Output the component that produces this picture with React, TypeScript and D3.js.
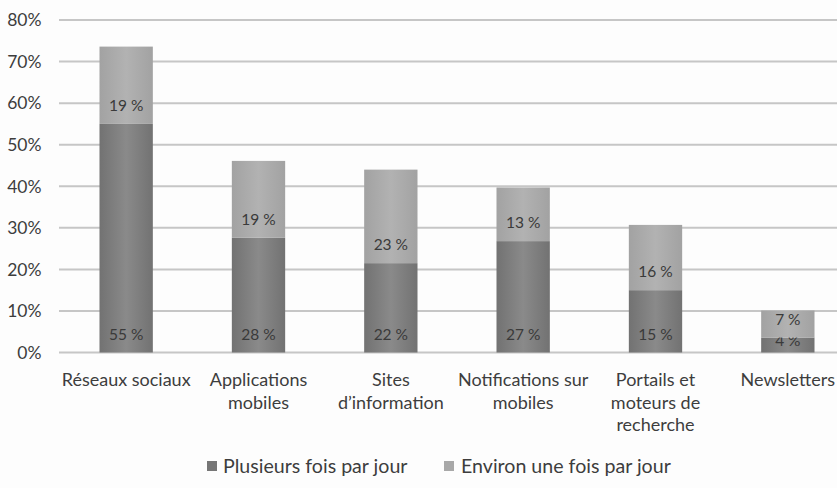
import React from "react";
import * as d3 from "d3";

const categories: string[][] = [
  ["Réseaux sociaux"],
  ["Applications", "mobiles"],
  ["Sites", "d’information"],
  ["Notifications sur", "mobiles"],
  ["Portails et", "moteurs de", "recherche"],
  ["Newsletters"],
];
const plusieurs: number[] = [55.0, 27.6, 21.5, 26.8, 15.0, 3.6];
const environ: number[] = [18.6, 18.5, 22.5, 12.9, 15.7, 6.5];
const yTicks: number[] = [0, 10, 20, 30, 40, 50, 60, 70, 80];
const seriesNames: string[] = ["Plusieurs fois par jour", "Environ une fois par jour"];

const W = 837;
const H = 488;
const FONT = "Lato, 'Open Sans', sans-serif";
const TEXT = "#3d3d3d";

export default function App() {
  const x = d3
    .scaleBand<number>()
    .domain(d3.range(categories.length))
    .range([60, 854])
    .paddingInner(0.597)
    .paddingOuter(0.2985);
  const y = d3.scaleLinear().domain([0, 80]).range([352.5, 20]);

  const stacked = categories.map((_, i) => {
    const a = plusieurs[i];
    const b = environ[i];
    return [
      { y0: 0, y1: a, v: a, fill: "url(#gDark)" },
      { y0: a, y1: a + b, v: b, fill: "url(#gLight)" },
    ];
  });

  return (
    <svg
      width={W}
      height={H}
      style={{ position: "absolute", left: 0, top: 0, background: "#fdfdfd" }}
      fontFamily={FONT}
    >
      <defs>
        <linearGradient id="gDark" x1="0" x2="1" y1="0" y2="0">
          <stop offset="0" stopColor="#727272" />
          <stop offset="0.5" stopColor="#8a8a8a" />
          <stop offset="1" stopColor="#727272" />
        </linearGradient>
        <linearGradient id="gLight" x1="0" x2="1" y1="0" y2="0">
          <stop offset="0" stopColor="#a2a2a2" />
          <stop offset="0.5" stopColor="#b2b2b2" />
          <stop offset="1" stopColor="#a2a2a2" />
        </linearGradient>
      </defs>
      {yTicks.map((t) => (
        <g key={t}>
          <line x1={59} x2={837} y1={y(t)} y2={y(t)} stroke="#c6c6c6" strokeWidth={2} />
          <text
            x={41.5}
            y={y(t)}
            dy="0.36em"
            textAnchor="end"
            fontSize={17.5}
            fill={TEXT}
          >
            {t}%
          </text>
        </g>
      ))}
      {stacked.map((segs, i) => (
        <g key={i}>
          {segs.map((s, j) => {
            const top = y(s.y1);
            const base = y(s.y0);
            const h = base - top;
            return (
              <g key={j}>
                <rect x={x(i)} y={top} width={x.bandwidth()} height={h} fill={s.fill} />
                <text
                  x={(x(i) as number) + x.bandwidth() / 2}
                  y={base - (h < 20 ? 12.5 : 18.5)}
                  dy="0.36em"
                  textAnchor="middle"
                  fontSize={15.5}
                  fill="#3a3a3a"
                >
                  {Math.round(s.v)} %
                </text>
              </g>
            );
          })}
          {categories[i].map((line, k) => (
            <text
              key={k}
              x={(x(i) as number) + x.bandwidth() / 2}
              y={380 + k * 22.5}
              dy="0.36em"
              textAnchor="middle"
              fontSize={18}
              fill={TEXT}
            >
              {line}
            </text>
          ))}
        </g>
      ))}
      <g>
        <rect x={207} y={461} width={10} height={10} fill="#767676" />
        <text x={223} y={466} dy="0.36em" fontSize={19.6} fill={TEXT}>
          {seriesNames[0]}
        </text>
        <rect x={444} y={461} width={10} height={10} fill="#a8a8a8" />
        <text x={461} y={466} dy="0.36em" fontSize={19.6} fill={TEXT}>
          {seriesNames[1]}
        </text>
      </g>
    </svg>
  );
}
